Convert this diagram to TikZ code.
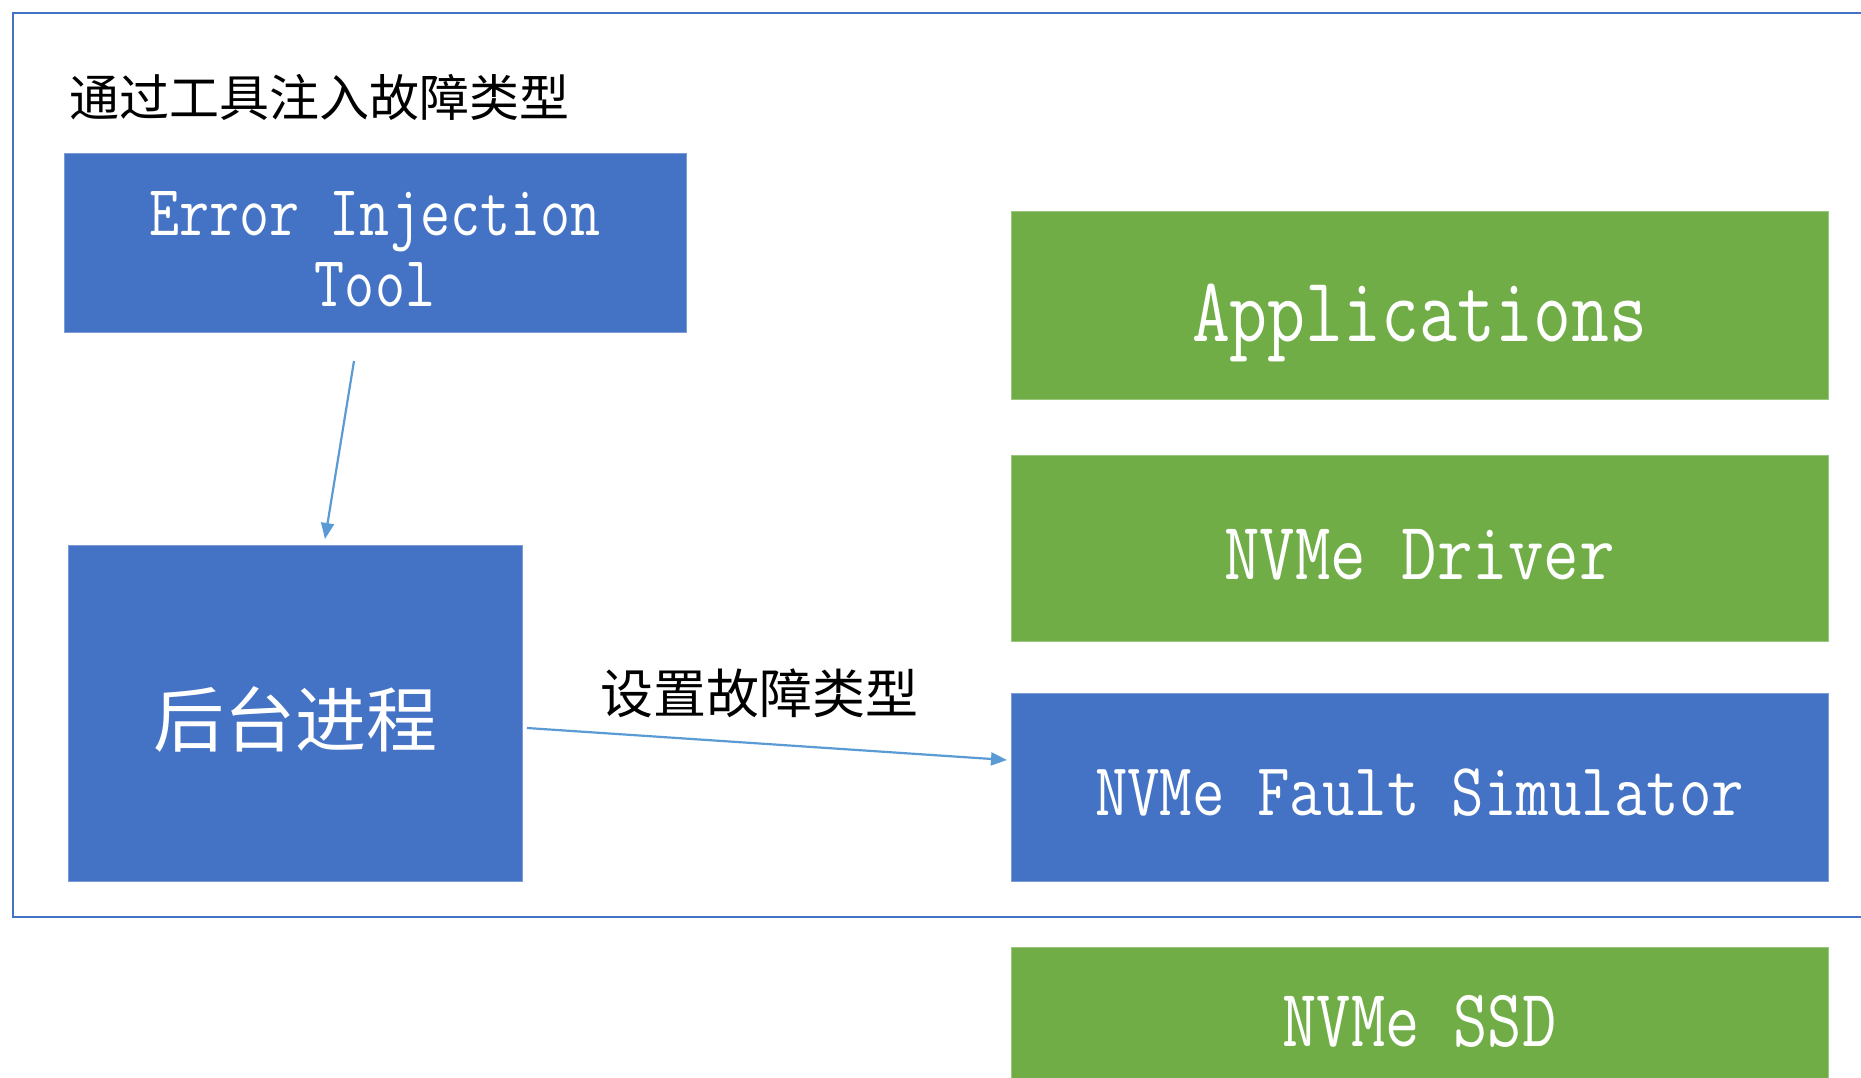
\documentclass[tikz,border=0pt]{standalone}
\usepackage{fontspec}
\usepackage{graphicx}
\newfontfamily\cjk{Noto Sans CJK SC}
\usetikzlibrary{arrows.meta}
\definecolor{boxblue}{HTML}{4472C4}
\definecolor{boxgreen}{HTML}{70AD47}
\definecolor{arrblue}{HTML}{5B9BD5}
\tikzset{
  bluebox/.style={rectangle, fill=boxblue, draw=boxblue!70!white, line width=0.8pt, inner sep=0pt, text=white, align=center},
  greenbox/.style={rectangle, fill=boxgreen, draw=boxgreen!70!white, line width=0.8pt, inner sep=0pt, text=white, align=center},
  boxtext/.style={text=white, inner sep=0pt},
  arr/.style={draw=arrblue, line width=2.2pt, -{Triangle[length=16pt,width=13pt]}},
  cjklabel/.style={inner sep=0pt, text=black}
}
\newcommand{\mono}[3]{{\ttfamily\fontsize{#1}{#1}\selectfont\scalebox{#2}[1]{#3}}}
\begin{document}
\begin{tikzpicture}[x=1pt,y=-1pt]
\useasboundingbox (0,0) rectangle (1861,1078);
\clip (0,0) rectangle (1861,1078);
\fill[white] (0,0) rectangle (1861,1078);
% outer frame
\draw[boxblue, line width=2.5pt] (13,13) rectangle (1900,917);
% top label
\node[cjklabel, anchor=west] (lbltop) at (69,97) {\cjk\fontsize{50}{50}\selectfont 通过工具注入故障类型};
% error injection tool
\node[bluebox, minimum width=622pt, minimum height=179pt] (eit) at (375,242.5) {};
\node[boxtext] (eitt1) at (375,222) {\mono{72}{0.81}{Error Injection}};
\node[boxtext] (eitt2) at (375,285) {\mono{72}{0.81}{Tool}};
% background process
\node[bluebox, minimum width=454pt, minimum height=336pt] (bg) at (295,713) {};
\node[boxtext] (bgt) at (295,719) {\cjk\fontsize{71}{71}\selectfont 后台进程};
% right stack
\node[greenbox, minimum width=817pt, minimum height=188pt] (app) at (1419.5,305) {};
\node[boxtext] (appt) at (1419.5,323) {\mono{92}{0.80}{Applications}};
\node[greenbox, minimum width=817pt, minimum height=186pt] (drv) at (1419.5,548) {};
\node[boxtext] (drvt) at (1419.5,555) {\mono{82}{0.84}{NVMe Driver}};
\node[bluebox, minimum width=817pt, minimum height=188pt] (fsim) at (1419.5,787) {};
\node[boxtext] (fsimt) at (1419.5,793) {\mono{75}{0.84}{NVMe Fault Simulator}};
\node[greenbox, minimum width=817pt, minimum height=188pt, anchor=north] (ssd) at (1419.5,947) {};
\node[boxtext] (ssdt) at (1419.5,1021) {\mono{82}{0.81}{NVMe SSD}};
% label for setting
\node[cjklabel] (lblset) at (759,693) {\cjk\fontsize{53}{53}\selectfont 设置故障类型};
% arrows
\coordinate (a1s) at (354,361);
\coordinate (a1e) at (325,539);
\draw[arr] (a1s) -- (a1e);
\coordinate (a2s) at (527,728);
\coordinate (a2e) at (1007,760);
\draw[arr] (a2s) -- (a2e);
\end{tikzpicture}
\end{document}
